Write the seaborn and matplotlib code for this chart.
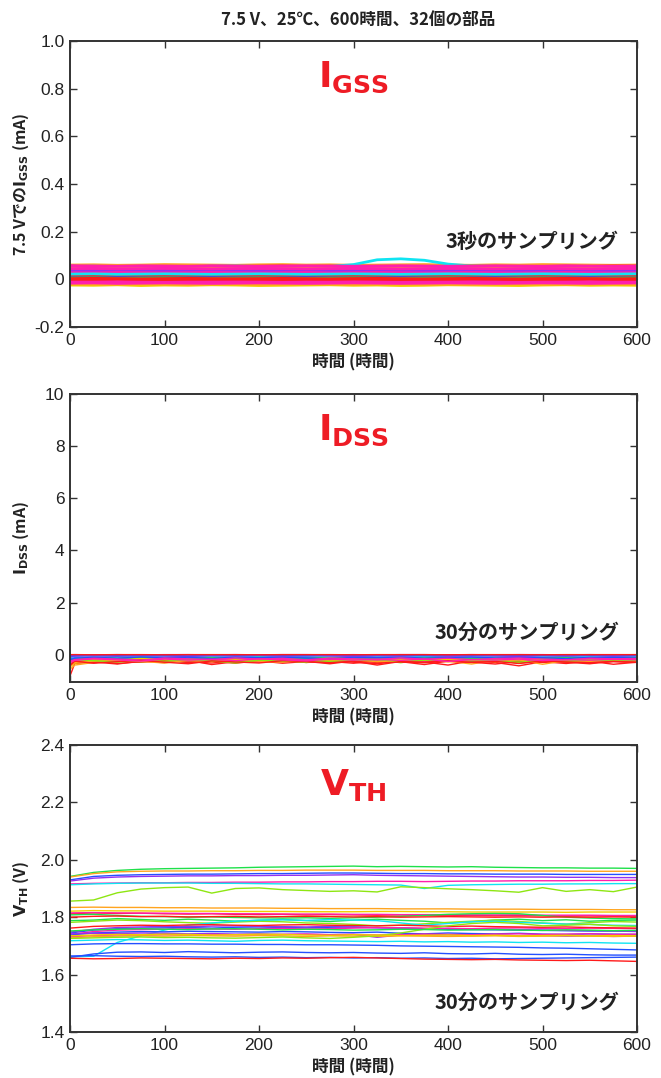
import matplotlib
matplotlib.use("Agg")
import matplotlib.pyplot as plt
from matplotlib import font_manager
from matplotlib.ticker import FixedLocator, FuncFormatter
import numpy as np
import pandas as pd
import seaborn as sns

# ---------------- data ----------------
title = "7.5 V、25℃、600時間、32個の部品"
hours_25 = list(range(0, 601, 25))                  # IGSS / VTH read grid
hours_idss = [0, 5] + list(range(25, 601, 25))      # IDSS read grid

# IGSS at 7.5 V (mA), 32 parts
igss = [
    [-0.024,-0.025,-0.023,-0.026,-0.024,-0.025,-0.023,-0.024,-0.026,-0.025,-0.024,-0.023,-0.025,-0.024,-0.026,-0.025,-0.023,-0.024,-0.025,-0.026,-0.024,-0.023,-0.025,-0.024,-0.025],
    [0.060,0.061,0.059,0.060,0.062,0.061,0.060,0.059,0.061,0.062,0.060,0.061,0.059,0.060,0.061,0.062,0.060,0.059,0.061,0.060,0.062,0.061,0.060,0.059,0.060],
    [0.054,0.055,0.053,0.054,0.052,0.053,0.055,0.056,0.054,0.053,0.052,0.054,0.062,0.082,0.086,0.080,0.064,0.056,0.054,0.053,0.052,0.051,0.052,0.051,0.050],
    [0.040,0.041,0.039,0.040,0.042,0.041,0.040,0.039,0.041,0.040,0.042,0.041,0.043,0.046,0.049,0.052,0.054,0.056,0.055,0.050,0.046,0.044,0.043,0.042,0.041],
    [0.026,0.025,0.024,0.026,0.025,0.024,0.026,0.025,0.023,0.025,0.026,0.024,0.025,0.027,0.026,0.024,0.025,0.026,0.024,0.025,0.026,0.025,0.024,0.026,0.025],
    [0.018,0.019,0.017,0.018,0.020,0.019,0.018,0.017,0.019,0.018,0.017,0.019,0.018,0.020,0.019,0.018,0.017,0.018,0.019,0.018,0.020,0.019,0.018,0.017,0.018],
    [0.038,0.037,0.036,0.035,0.036,0.037,0.036,0.035,0.036,0.035,0.034,0.036,0.035,0.036,0.037,0.036,0.035,0.036,0.034,0.035,0.036,0.037,0.036,0.035,0.036],
    [0.056,0.052,0.048,0.046,0.045,0.047,0.046,0.044,0.046,0.045,0.047,0.046,0.045,0.044,0.046,0.047,0.045,0.046,0.044,0.045,0.046,0.047,0.045,0.046,0.045],
    [0.011,0.010,0.009,0.010,0.011,0.010,0.009,0.011,0.010,0.009,0.010,0.011,0.012,0.010,0.009,0.010,0.011,0.010,0.009,0.010,0.011,0.010,0.009,0.010,0.011],
    [-0.013,-0.014,-0.015,-0.016,-0.014,-0.013,-0.015,-0.014,-0.013,-0.014,-0.015,-0.014,-0.013,-0.012,-0.014,-0.015,-0.014,-0.013,-0.014,-0.015,-0.013,-0.014,-0.015,-0.014,-0.013],
    [-0.019,-0.020,-0.021,-0.019,-0.020,-0.022,-0.020,-0.019,-0.021,-0.020,-0.019,-0.020,-0.021,-0.020,-0.019,-0.021,-0.020,-0.022,-0.020,-0.019,-0.020,-0.021,-0.020,-0.019,-0.020],
    [0.031,0.030,0.029,0.031,0.030,0.032,0.030,0.029,0.031,0.030,0.029,0.030,0.031,0.030,0.029,0.031,0.030,0.032,0.030,0.029,0.031,0.030,0.029,0.030,0.031],
    [0.021,0.020,0.019,0.020,0.021,0.020,0.022,0.020,0.019,0.020,0.021,0.020,0.019,0.021,0.020,0.022,0.020,0.019,0.020,0.021,0.020,0.019,0.021,0.020,0.020],
    [0.033,0.032,0.031,0.033,0.032,0.031,0.032,0.033,0.032,0.031,0.033,0.032,0.031,0.032,0.034,0.033,0.032,0.031,0.032,0.033,0.032,0.031,0.032,0.033,0.032],
    [0.050,0.051,0.052,0.050,0.053,0.052,0.051,0.054,0.055,0.056,0.054,0.055,0.054,0.053,0.052,0.051,0.052,0.053,0.052,0.051,0.054,0.055,0.054,0.056,0.055],
    [0.043,0.042,0.041,0.043,0.042,0.044,0.042,0.041,0.043,0.042,0.041,0.042,0.043,0.042,0.041,0.043,0.042,0.044,0.042,0.041,0.043,0.042,0.041,0.042,0.043],
    [0.052,0.050,0.049,0.051,0.048,0.050,0.052,0.049,0.050,0.051,0.050,0.048,0.050,0.052,0.051,0.049,0.050,0.051,0.049,0.050,0.052,0.051,0.050,0.049,0.050],
    [0.036,0.034,0.035,0.037,0.035,0.034,0.036,0.035,0.034,0.035,0.036,0.035,0.034,0.033,0.035,0.036,0.034,0.035,0.036,0.035,0.034,0.036,0.035,0.034,0.035],
    [0.028,0.027,0.029,0.028,0.027,0.028,0.029,0.028,0.027,0.028,0.029,0.027,0.028,0.029,0.028,0.027,0.028,0.029,0.028,0.027,0.028,0.029,0.028,0.027,0.028],
    [0.015,0.016,0.014,0.015,0.016,0.015,0.014,0.015,0.016,0.015,0.014,0.016,0.015,0.014,0.015,0.016,0.015,0.014,0.015,0.016,0.015,0.014,0.015,0.016,0.015],
    [-0.008,-0.007,-0.009,-0.008,-0.007,-0.008,-0.009,-0.008,-0.007,-0.008,-0.009,-0.008,-0.007,-0.008,-0.009,-0.008,-0.007,-0.008,-0.009,-0.008,-0.007,-0.008,-0.009,-0.008,-0.007],
    [-0.016,-0.015,-0.017,-0.016,-0.015,-0.016,-0.017,-0.016,-0.015,-0.016,-0.017,-0.016,-0.015,-0.016,-0.017,-0.016,-0.015,-0.016,-0.017,-0.016,-0.015,-0.016,-0.017,-0.016,-0.015],
    [0.053,0.052,0.051,0.053,0.052,0.054,0.052,0.051,0.053,0.052,0.051,0.052,0.053,0.052,0.051,0.053,0.052,0.054,0.052,0.051,0.053,0.052,0.051,0.052,0.053],
    [0.013,0.012,0.011,0.012,0.013,0.012,0.011,0.012,0.013,0.012,0.011,0.012,0.013,0.012,0.011,0.012,0.013,0.012,0.011,0.012,0.013,0.012,0.011,0.012,0.013],
    [0.018,0.017,0.019,0.018,0.017,0.018,0.019,0.018,0.017,0.018,0.019,0.018,0.017,0.018,0.019,0.018,0.017,0.018,0.019,0.018,0.017,0.018,0.019,0.018,0.017],
    [0.048,0.049,0.047,0.048,0.049,0.048,0.047,0.048,0.049,0.048,0.047,0.048,0.049,0.048,0.047,0.048,0.049,0.048,0.047,0.048,0.049,0.048,0.047,0.048,0.049],
    [0.005,0.006,0.004,0.005,0.006,0.005,0.004,0.005,0.006,0.005,0.004,0.005,0.006,0.005,0.004,0.005,0.006,0.005,0.004,0.005,0.006,0.005,0.004,0.005,0.006],
    [0.057,0.056,0.055,0.057,0.056,0.055,0.057,0.056,0.055,0.056,0.057,0.056,0.055,0.056,0.057,0.056,0.055,0.056,0.057,0.056,0.055,0.057,0.056,0.055,0.056],
    [0.022,0.023,0.021,0.022,0.023,0.022,0.021,0.022,0.023,0.022,0.021,0.022,0.023,0.022,0.021,0.022,0.023,0.022,0.021,0.022,0.023,0.022,0.021,0.022,0.023],
    [0.045,0.046,0.044,0.045,0.046,0.045,0.044,0.045,0.046,0.045,0.044,0.045,0.046,0.045,0.044,0.045,0.046,0.045,0.044,0.045,0.046,0.045,0.044,0.045,0.046],
    [0.003,0.004,0.003,0.002,0.003,0.004,0.003,0.002,0.003,0.004,0.003,0.002,0.003,0.004,0.003,0.002,0.003,0.004,0.003,0.002,0.003,0.004,0.003,0.002,0.003],
    [0.000,0.000,0.001,0.000,-0.001,0.000,0.000,0.001,0.000,-0.001,0.000,0.000,0.001,0.000,-0.001,0.000,0.000,0.001,0.000,-0.001,0.000,0.000,0.001,0.000,0.000],
]
igss_colors = ["Y","O","C","L","G","C","B","P","G","C","O","P","B","L","R","M",
               "M","P","M","G","M","M","P","B","R","O","G","M","C","M","R","R"]

# IDSS (mA), 32 parts
idss = [
    [-0.02,-0.01,-0.02,-0.01,-0.02,-0.03,-0.01,-0.02,-0.02,-0.01,-0.03,-0.02,-0.01,-0.02,-0.02,-0.01,-0.03,-0.02,-0.01,-0.02,-0.02,-0.03,-0.01,-0.02,-0.02,-0.01],
    [-0.82,-0.34,-0.28,-0.36,-0.25,-0.31,-0.22,-0.38,-0.27,-0.24,-0.33,-0.26,-0.21,-0.29,-0.35,-0.25,-0.28,-0.40,-0.24,-0.30,-0.43,-0.27,-0.34,-0.25,-0.37,-0.29],
    [-0.56,-0.40,-0.30,-0.22,-0.28,-0.19,-0.25,-0.21,-0.30,-0.18,-0.24,-0.27,-0.20,-0.23,-0.19,-0.28,-0.22,-0.25,-0.36,-0.21,-0.26,-0.20,-0.24,-0.29,-0.22,-0.25],
    [-0.45,-0.33,-0.24,-0.18,-0.22,-0.26,-0.17,-0.21,-0.19,-0.25,-0.18,-0.22,-0.16,-0.24,-0.20,-0.17,-0.23,-0.19,-0.21,-0.27,-0.18,-0.22,-0.19,-0.24,-0.17,-0.21],
    [-0.35,-0.25,-0.20,-0.26,-0.17,-0.22,-0.30,-0.18,-0.21,-0.16,-0.27,-0.19,-0.23,-0.17,-0.20,-0.31,-0.18,-0.22,-0.16,-0.24,-0.20,-0.17,-0.26,-0.19,-0.22,-0.18],
    [-0.30,-0.22,-0.17,-0.14,-0.20,-0.15,-0.18,-0.23,-0.14,-0.19,-0.16,-0.21,-0.15,-0.18,-0.24,-0.16,-0.19,-0.14,-0.22,-0.17,-0.15,-0.20,-0.16,-0.18,-0.21,-0.15],
    [-0.25,-0.18,-0.12,-0.16,-0.10,-0.14,-0.11,-0.17,-0.12,-0.09,-0.15,-0.11,-0.13,-0.10,-0.16,-0.12,-0.09,-0.14,-0.11,-0.13,-0.10,-0.15,-0.12,-0.09,-0.13,-0.11],
    [-0.22,-0.15,-0.10,-0.13,-0.09,-0.12,-0.15,-0.10,-0.08,-0.13,-0.11,-0.09,-0.14,-0.10,-0.12,-0.08,-0.13,-0.10,-0.15,-0.09,-0.11,-0.13,-0.08,-0.12,-0.10,-0.14],
    [-0.28,-0.20,-0.15,-0.19,-0.13,-0.17,-0.21,-0.14,-0.18,-0.12,-0.16,-0.20,-0.14,-0.17,-0.13,-0.19,-0.15,-0.23,-0.14,-0.17,-0.13,-0.18,-0.15,-0.20,-0.14,-0.16],
    [-0.40,-0.28,-0.21,-0.25,-0.18,-0.23,-0.27,-0.20,-0.24,-0.19,-0.29,-0.21,-0.18,-0.25,-0.22,-0.19,-0.26,-0.21,-0.24,-0.18,-0.28,-0.22,-0.19,-0.25,-0.21,-0.23],
    [-0.30,-0.26,-0.31,-0.24,-0.29,-0.22,-0.27,-0.32,-0.25,-0.28,-0.23,-0.30,-0.26,-0.33,-0.24,-0.28,-0.31,-0.25,-0.29,-0.36,-0.26,-0.30,-0.24,-0.32,-0.27,-0.30],
    [-0.38,-0.26,-0.20,-0.16,-0.23,-0.18,-0.21,-0.15,-0.19,-0.24,-0.17,-0.20,-0.16,-0.22,-0.18,-0.15,-0.20,-0.17,-0.23,-0.19,-0.16,-0.21,-0.18,-0.20,-0.17,-0.19],
    [-0.20,-0.27,-0.19,-0.23,-0.28,-0.20,-0.24,-0.19,-0.26,-0.21,-0.23,-0.30,-0.20,-0.24,-0.19,-0.22,-0.27,-0.21,-0.25,-0.20,-0.24,-0.22,-0.28,-0.21,-0.23,-0.20],
    [-0.26,-0.19,-0.14,-0.18,-0.22,-0.15,-0.17,-0.20,-0.14,-0.18,-0.21,-0.16,-0.19,-0.14,-0.17,-0.22,-0.15,-0.18,-0.25,-0.16,-0.19,-0.14,-0.18,-0.21,-0.16,-0.17],
    [-0.18,-0.12,-0.08,-0.11,-0.07,-0.10,-0.13,-0.08,-0.10,-0.07,-0.12,-0.09,-0.07,-0.11,-0.08,-0.10,-0.06,-0.11,-0.09,-0.07,-0.12,-0.08,-0.10,-0.07,-0.09,-0.08],
    [-0.15,-0.10,-0.07,-0.05,-0.08,-0.06,-0.09,-0.05,-0.07,-0.10,-0.06,-0.08,-0.05,-0.07,-0.09,-0.06,-0.08,-0.05,-0.07,-0.06,-0.09,-0.05,-0.07,-0.08,-0.06,-0.07],
    [-0.24,-0.17,-0.12,-0.15,-0.10,-0.14,-0.17,-0.11,-0.13,-0.16,-0.11,-0.14,-0.12,-0.18,-0.11,-0.13,-0.15,-0.10,-0.14,-0.12,-0.16,-0.11,-0.13,-0.28,-0.12,-0.14],
    [-0.33,-0.24,-0.17,-0.22,-0.15,-0.19,-0.24,-0.16,-0.20,-0.27,-0.17,-0.21,-0.16,-0.19,-0.23,-0.17,-0.26,-0.18,-0.21,-0.16,-0.20,-0.24,-0.17,-0.22,-0.18,-0.20],
    [-0.36,-0.30,-0.24,-0.34,-0.27,-0.22,-0.30,-0.25,-0.33,-0.23,-0.28,-0.26,-0.35,-0.24,-0.30,-0.27,-0.38,-0.25,-0.29,-0.24,-0.32,-0.26,-0.29,-0.35,-0.25,-0.28],
    [-0.48,-0.30,-0.25,-0.21,-0.26,-0.32,-0.22,-0.27,-0.20,-0.25,-0.29,-0.21,-0.24,-0.20,-0.27,-0.23,-0.21,-0.28,-0.22,-0.25,-0.20,-0.37,-0.23,-0.26,-0.21,-0.24],
    [-0.30,-0.21,-0.16,-0.19,-0.14,-0.18,-0.21,-0.15,-0.17,-0.20,-0.14,-0.18,-0.16,-0.21,-0.15,-0.18,-0.14,-0.19,-0.17,-0.22,-0.15,-0.18,-0.16,-0.20,-0.15,-0.17],
    [-0.27,-0.20,-0.23,-0.29,-0.21,-0.25,-0.19,-0.24,-0.32,-0.21,-0.25,-0.20,-0.27,-0.22,-0.19,-0.26,-0.21,-0.24,-0.20,-0.23,-0.30,-0.21,-0.25,-0.19,-0.24,-0.22],
    [-0.22,-0.16,-0.11,-0.14,-0.10,-0.13,-0.16,-0.11,-0.14,-0.10,-0.13,-0.15,-0.10,-0.12,-0.16,-0.11,-0.13,-0.10,-0.15,-0.12,-0.10,-0.14,-0.11,-0.13,-0.10,-0.12],
    [-0.12,-0.08,-0.05,-0.07,-0.04,-0.06,-0.08,-0.05,-0.07,-0.04,-0.06,-0.05,-0.08,-0.04,-0.06,-0.05,-0.07,-0.04,-0.06,-0.08,-0.05,-0.06,-0.04,-0.07,-0.05,-0.06],
    [-0.20,-0.14,-0.10,-0.14,-0.09,-0.12,-0.10,-0.15,-0.09,-0.12,-0.10,-0.13,-0.16,-0.10,-0.12,-0.09,-0.14,-0.11,-0.09,-0.13,-0.10,-0.12,-0.15,-0.10,-0.11,-0.13],
    [-0.10,-0.06,-0.04,-0.06,-0.03,-0.05,-0.07,-0.04,-0.05,-0.03,-0.06,-0.04,-0.05,-0.07,-0.04,-0.05,-0.03,-0.06,-0.04,-0.05,-0.07,-0.04,-0.05,-0.03,-0.06,-0.04],
    [-0.26,-0.19,-0.14,-0.17,-0.21,-0.13,-0.16,-0.19,-0.13,-0.17,-0.14,-0.20,-0.13,-0.16,-0.18,-0.13,-0.17,-0.14,-0.19,-0.15,-0.13,-0.17,-0.20,-0.14,-0.16,-0.15],
    [-0.42,-0.25,-0.33,-0.27,-0.22,-0.29,-0.35,-0.24,-0.28,-0.32,-0.23,-0.27,-0.31,-0.25,-0.40,-0.26,-0.29,-0.23,-0.30,-0.26,-0.34,-0.24,-0.28,-0.31,-0.26,-0.29],
    [-0.06,-0.03,-0.02,-0.04,-0.02,-0.03,-0.05,-0.02,-0.03,-0.02,-0.04,-0.03,-0.02,-0.04,-0.03,-0.02,-0.04,-0.03,-0.02,-0.03,-0.04,-0.02,-0.03,-0.02,-0.04,-0.03],
    [-0.30,-0.22,-0.16,-0.20,-0.25,-0.17,-0.21,-0.18,-0.23,-0.16,-0.20,-0.24,-0.17,-0.21,-0.18,-0.22,-0.17,-0.26,-0.19,-0.21,-0.17,-0.23,-0.19,-0.21,-0.18,-0.20],
    [-0.01,0.00,-0.01,0.00,-0.01,0.00,0.00,-0.01,0.00,-0.01,0.00,0.00,-0.01,0.00,-0.01,0.00,0.00,-0.01,0.00,-0.01,0.00,0.00,-0.01,0.00,-0.01,0.00],
    [0.000,0.000,-0.005,0.000,0.000,-0.005,0.000,0.000,0.000,-0.005,0.000,0.000,0.000,-0.005,0.000,0.000,0.000,-0.005,0.000,0.000,0.000,-0.005,0.000,0.000,0.000,0.000],
]
idss_colors = ["P","R","O","Y","L","G","C","B","P","M","R","O","L","G","C","B",
               "P","M","R","O","Y","L","G","C","B","P","M","R","B","M","P","R"]

# VTH (V), 32 parts
vth = [
    [1.942,1.956,1.963,1.967,1.969,1.970,1.971,1.972,1.974,1.975,1.976,1.977,1.978,1.976,1.977,1.976,1.975,1.976,1.974,1.973,1.972,1.972,1.971,1.971,1.970],
    [1.940,1.952,1.958,1.960,1.961,1.961,1.962,1.962,1.963,1.963,1.964,1.964,1.964,1.963,1.963,1.963,1.962,1.962,1.962,1.961,1.961,1.961,1.960,1.960,1.960],
    [1.930,1.942,1.946,1.948,1.949,1.950,1.950,1.951,1.952,1.952,1.953,1.954,1.954,1.953,1.952,1.952,1.951,1.951,1.950,1.950,1.950,1.949,1.949,1.949,1.949],
    [1.926,1.936,1.940,1.942,1.943,1.944,1.944,1.945,1.945,1.946,1.946,1.947,1.948,1.946,1.945,1.944,1.943,1.942,1.941,1.940,1.940,1.939,1.939,1.938,1.938],
    [1.916,1.918,1.919,1.920,1.920,1.921,1.921,1.922,1.922,1.923,1.923,1.924,1.924,1.925,1.925,1.924,1.925,1.926,1.926,1.927,1.927,1.927,1.928,1.928,1.929],
    [1.913,1.916,1.918,1.919,1.919,1.919,1.918,1.918,1.917,1.916,1.916,1.915,1.914,1.913,1.912,1.900,1.911,1.913,1.914,1.915,1.915,1.916,1.916,1.917,1.917],
    [1.856,1.860,1.885,1.898,1.903,1.905,1.884,1.900,1.902,1.896,1.893,1.890,1.892,1.888,1.906,1.903,1.899,1.896,1.892,1.887,1.903,1.890,1.896,1.889,1.905],
    [1.834,1.835,1.834,1.834,1.833,1.833,1.832,1.832,1.832,1.831,1.831,1.830,1.830,1.830,1.829,1.829,1.829,1.828,1.828,1.828,1.827,1.827,1.827,1.826,1.826],
    [1.821,1.823,1.822,1.822,1.821,1.821,1.821,1.820,1.820,1.820,1.819,1.819,1.819,1.820,1.820,1.819,1.819,1.818,1.818,1.818,1.818,1.817,1.818,1.818,1.818],
    [1.812,1.815,1.813,1.814,1.812,1.811,1.812,1.810,1.809,1.810,1.808,1.809,1.808,1.807,1.808,1.806,1.807,1.806,1.805,1.806,1.805,1.804,1.805,1.804,1.804],
    [1.815,1.816,1.815,1.814,1.814,1.813,1.813,1.812,1.812,1.811,1.811,1.811,1.810,1.810,1.809,1.809,1.809,1.808,1.808,1.808,1.807,1.807,1.807,1.806,1.806],
    [1.808,1.810,1.806,1.803,1.802,1.800,1.801,1.799,1.798,1.797,1.798,1.796,1.798,1.800,1.803,1.806,1.810,1.812,1.813,1.812,1.806,1.800,1.797,1.795,1.794],
    [1.800,1.803,1.804,1.802,1.803,1.801,1.802,1.803,1.801,1.802,1.803,1.802,1.801,1.802,1.800,1.801,1.802,1.801,1.800,1.801,1.800,1.801,1.800,1.801,1.800],
    [1.788,1.790,1.795,1.792,1.789,1.793,1.790,1.786,1.789,1.792,1.788,1.785,1.790,1.793,1.789,1.786,1.780,1.784,1.790,1.793,1.788,1.791,1.786,1.789,1.790],
    [1.782,1.786,1.790,1.788,1.784,1.781,1.779,1.783,1.786,1.784,1.780,1.778,1.775,1.770,1.772,1.777,1.782,1.786,1.790,1.785,1.780,1.776,1.781,1.785,1.783],
    [1.662,1.664,1.712,1.735,1.755,1.772,1.780,1.786,1.790,1.791,1.789,1.792,1.790,1.788,1.780,1.772,1.778,1.784,1.786,1.782,1.779,1.776,1.775,1.772,1.771],
    [1.745,1.755,1.760,1.762,1.763,1.764,1.762,1.765,1.766,1.764,1.763,1.765,1.766,1.764,1.762,1.760,1.758,1.757,1.756,1.755,1.754,1.753,1.752,1.752,1.751],
    [1.748,1.758,1.764,1.766,1.768,1.767,1.769,1.770,1.768,1.767,1.766,1.768,1.765,1.763,1.762,1.760,1.761,1.759,1.758,1.757,1.755,1.754,1.753,1.752,1.750],
    [1.740,1.750,1.755,1.757,1.758,1.760,1.759,1.758,1.760,1.761,1.759,1.760,1.762,1.764,1.763,1.762,1.761,1.760,1.762,1.763,1.761,1.760,1.762,1.761,1.760],
    [1.762,1.768,1.770,1.772,1.771,1.773,1.774,1.772,1.771,1.773,1.774,1.772,1.771,1.770,1.772,1.770,1.768,1.769,1.767,1.766,1.765,1.766,1.764,1.763,1.762],
    [1.738,1.745,1.748,1.750,1.749,1.751,1.750,1.749,1.748,1.750,1.749,1.747,1.746,1.748,1.744,1.742,1.745,1.743,1.742,1.744,1.741,1.740,1.742,1.741,1.740],
    [1.742,1.744,1.743,1.745,1.744,1.742,1.743,1.741,1.742,1.740,1.741,1.739,1.740,1.730,1.738,1.737,1.739,1.736,1.738,1.735,1.736,1.734,1.735,1.733,1.734],
    [1.732,1.736,1.738,1.737,1.739,1.738,1.740,1.739,1.738,1.740,1.741,1.739,1.740,1.738,1.739,1.741,1.740,1.739,1.741,1.742,1.740,1.741,1.742,1.740,1.741],
    [1.728,1.732,1.734,1.735,1.734,1.736,1.735,1.734,1.736,1.735,1.733,1.735,1.734,1.733,1.735,1.734,1.733,1.734,1.735,1.733,1.734,1.735,1.734,1.733,1.734],
    [1.726,1.728,1.730,1.731,1.729,1.730,1.728,1.727,1.729,1.731,1.728,1.726,1.730,1.735,1.745,1.758,1.770,1.778,1.782,1.778,1.770,1.772,1.775,1.770,1.768],
    [1.752,1.756,1.758,1.760,1.758,1.757,1.759,1.760,1.758,1.756,1.758,1.757,1.755,1.756,1.758,1.757,1.755,1.756,1.757,1.755,1.754,1.756,1.755,1.753,1.754],
    [1.735,1.738,1.740,1.739,1.741,1.740,1.738,1.739,1.741,1.740,1.738,1.737,1.739,1.738,1.736,1.737,1.738,1.736,1.737,1.735,1.736,1.737,1.735,1.736,1.735],
    [1.718,1.720,1.722,1.721,1.719,1.720,1.718,1.716,1.719,1.720,1.718,1.717,1.716,1.715,1.716,1.714,1.715,1.713,1.714,1.712,1.713,1.711,1.712,1.710,1.709],
    [1.704,1.707,1.708,1.708,1.707,1.707,1.706,1.706,1.705,1.705,1.704,1.704,1.703,1.702,1.700,1.699,1.698,1.697,1.696,1.695,1.693,1.692,1.690,1.688,1.686],
    [1.660,1.672,1.678,1.679,1.677,1.680,1.678,1.676,1.678,1.679,1.677,1.676,1.677,1.675,1.674,1.676,1.673,1.672,1.674,1.671,1.670,1.671,1.669,1.668,1.668],
    [1.665,1.666,1.664,1.663,1.664,1.662,1.661,1.662,1.660,1.661,1.659,1.660,1.658,1.659,1.657,1.658,1.656,1.657,1.655,1.656,1.657,1.658,1.659,1.660,1.661],
    [1.657,1.655,1.656,1.658,1.657,1.656,1.655,1.657,1.656,1.658,1.657,1.659,1.660,1.658,1.656,1.654,1.653,1.652,1.653,1.651,1.650,1.649,1.650,1.648,1.646],
]
vth_colors = ["G","O","B","P","M","C","L","O","Y","R","M","G","R","G","L","C",
              "B","P","M","R","B","P","M","O","L","G","Y","C","B","B","B","R"]

palette_map = {"R": "#ff1a1a", "O": "#ffa51f", "Y": "#f0cc00", "L": "#8ee612",
               "G": "#1fe04a", "C": "#10e4f2", "B": "#2450ff", "P": "#9430f0",
               "M": "#ff1fae"}

# ---------------- style ----------------
sns.set_style("ticks")
plt.rcParams["font.family"] = ["Noto Sans CJK JP", "DejaVu Sans"]
plt.rcParams["mathtext.fontset"] = "dejavusans"
plt.rcParams["axes.unicode_minus"] = False

installed = {f.name for f in font_manager.fontManager.ttflist}
tick_family = "Liberation Sans Narrow" if "Liberation Sans Narrow" in installed else "Liberation Sans"

W, H = 661, 1078
fig = plt.figure(figsize=(W / 100, H / 100), dpi=100)

def frac_axes(left, top, right, bottom):
    return fig.add_axes([left / W, 1 - bottom / H, (right - left) / W, (bottom - top) / H])

def long_df(hours, series):
    rows = []
    for k, vals in enumerate(series):
        for h, v in zip(hours, vals):
            rows.append((k, h, v))
    return pd.DataFrame(rows, columns=["part", "hours", "value"])

def draw(ax, hours, series, cols, lw, alpha=1.0):
    df = long_df(hours, series)
    pal = [palette_map[c] for c in cols]
    sns.lineplot(data=df, x="hours", y="value", hue="part", palette=pal,
                 legend=False, estimator=None, sort=False, linewidth=lw,
                 alpha=alpha, ax=ax)

def style_axis(ax, ylim, yticks, yfmt):
    ax.set_xlim(0, 600)
    ax.set_ylim(*ylim)
    ax.xaxis.set_major_locator(FixedLocator(range(0, 601, 100)))
    ax.yaxis.set_major_locator(FixedLocator(yticks))
    ax.yaxis.set_major_formatter(FuncFormatter(yfmt))
    ax.tick_params(direction="in", top=True, right=True, length=5, width=1,
                   labelsize=12.5, colors="#333333", labelcolor="#222222", pad=4,
                   labelfontfamily=tick_family)
    for sp in ax.spines.values():
        sp.set_linewidth(1.4)
        sp.set_color("#333333")
    ax.set_xlabel("時間 (時間)", fontsize=12, fontweight="bold", color="#222222", labelpad=4)

big_kw = dict(color="#ee1c25", fontsize=26, ha="center", va="center")
samp_kw = dict(fontsize=14.5, fontweight="bold", ha="right", va="center", color="#222222")
ylab_kw = dict(fontsize=11.5, fontweight="bold", color="#222222")

# ---- panel 1: IGSS ----
ax1 = frac_axes(70, 41, 637, 327)
draw(ax1, hours_25, igss, igss_colors, lw=2.0)
style_axis(ax1, (-0.2, 1.0), [-0.2, 0, 0.2, 0.4, 0.6, 0.8, 1.0],
           lambda v, p: "0" if abs(v) < 1e-9 else f"{v:.1f}")
ax1.set_ylabel("7.5 Vでの$\\mathbf{I_{GSS}}$ (mA)", **ylab_kw)
ax1.text(0.5, 0.875, "$\\mathbf{I_{GSS}}$", transform=ax1.transAxes, **big_kw)
ax1.text(0.968, 0.30, "3秒のサンプリング", transform=ax1.transAxes, **samp_kw)

# ---- panel 2: IDSS ----
ax2 = frac_axes(70, 394, 637, 682)
draw(ax2, hours_idss, idss, idss_colors, lw=1.0)
style_axis(ax2, (-1.05, 10), [0, 2, 4, 6, 8, 10], lambda v, p: f"{v:.0f}")
ax2.set_ylabel("$\\mathbf{I_{DSS}}$ (mA)", **ylab_kw)
ax2.text(0.5, 0.875, "$\\mathbf{I_{DSS}}$", transform=ax2.transAxes, **big_kw)
ax2.text(0.968, 0.172, "30分のサンプリング", transform=ax2.transAxes, **samp_kw)

# ---- panel 3: VTH ----
ax3 = frac_axes(70, 745, 637, 1032)
draw(ax3, hours_25, vth, vth_colors, lw=1.0)
style_axis(ax3, (1.4, 2.4), [1.4, 1.6, 1.8, 2.0, 2.2, 2.4], lambda v, p: f"{v:.1f}")
ax3.set_ylabel("$\\mathbf{V_{TH}}$ (V)", **ylab_kw)
ax3.text(0.5, 0.86, "$\\mathbf{V_{TH}}$", transform=ax3.transAxes, **big_kw)
ax3.text(0.968, 0.105, "30分のサンプリング", transform=ax3.transAxes, **samp_kw)

for ax in (ax1, ax2, ax3):
    ax.yaxis.set_label_coords(-0.068, 0.5)

fig.text(358 / W, 1 - 20 / H, title, ha="center", va="center", fontsize=12,
         fontweight="bold", color="#222222")

fig.savefig("out.png", dpi=100)
